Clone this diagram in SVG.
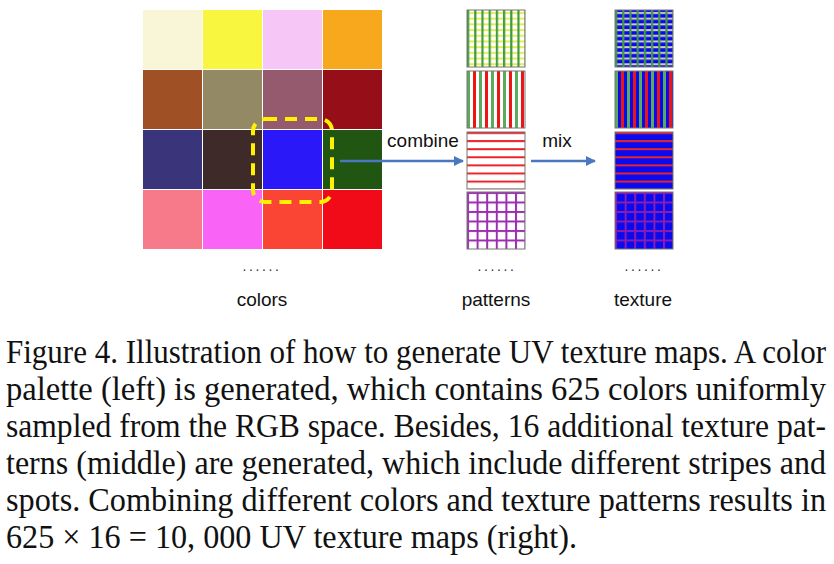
<svg xmlns="http://www.w3.org/2000/svg" width="834" height="564" viewBox="0 0 834 564">
<style>
.lbl{font-family:"Liberation Sans",Arial,sans-serif;font-size:19px;fill:#111;text-anchor:middle}
.dots{font-family:"Liberation Sans",Arial,sans-serif;font-size:14px;fill:#333;text-anchor:middle;letter-spacing:2.6px}
.cap{font-family:"Liberation Serif","Times New Roman",serif;font-size:29px;fill:#111}
.box{stroke:#777;stroke-width:1;fill:none}
.arr{stroke:#4A78C0;stroke-width:2.5;fill:none}
</style>
<defs>
<pattern id="gv" width="7.2" height="10" patternUnits="userSpaceOnUse"><rect x="0" y="0" width="2.2" height="10" fill="#3E9A46"/></pattern>
<pattern id="yh" width="10" height="5.7" patternUnits="userSpaceOnUse"><rect x="0" y="2" width="10" height="2" fill="#E4EC4E"/></pattern>
<pattern id="bh" width="10" height="5.7" patternUnits="userSpaceOnUse"><rect x="0" y="2" width="10" height="2" fill="#D6D2AE"/></pattern>
<pattern id="gr" width="12" height="10" patternUnits="userSpaceOnUse"><rect x="0" y="0" width="3" height="10" fill="#5CAA5C"/><rect x="6" y="0" width="3" height="10" fill="#EE1515"/></pattern>
<pattern id="rh" width="10" height="8.1" patternUnits="userSpaceOnUse"><rect x="0" y="0" width="10" height="2" fill="#E8242A"/></pattern>
<pattern id="pg" width="9.6" height="9.5" patternUnits="userSpaceOnUse"><rect x="0" y="0" width="2" height="9.5" fill="#9B2FB0"/><rect x="0" y="0" width="9.6" height="2" fill="#9B2FB0"/></pattern>
<pattern id="pg2" width="9.6" height="9.5" patternUnits="userSpaceOnUse"><rect x="0" y="0" width="2" height="9.5" fill="#8A1CB0"/><rect x="0" y="0" width="9.6" height="2" fill="#8A1CB0"/></pattern>
<marker id="ah" viewBox="0 0 10 10" refX="9" refY="5" markerWidth="4" markerHeight="4" orient="auto" markerUnits="strokeWidth"><path d="M0,0 L10,5 L0,10 z" fill="#4A78C0"/></marker>
</defs>
<rect width="834" height="564" fill="#fff"/>

<g id="palette">
<rect x="143" y="10" width="59" height="59" fill="#F8F6D6"/>
<rect x="203" y="10" width="59" height="59" fill="#F9F640"/>
<rect x="263" y="10" width="59" height="59" fill="#F6C6F6"/>
<rect x="323" y="10" width="59" height="59" fill="#F7A81C"/>
<rect x="143" y="70" width="59" height="59" fill="#A05025"/>
<rect x="203" y="70" width="59" height="59" fill="#938A65"/>
<rect x="263" y="70" width="59" height="59" fill="#965A6E"/>
<rect x="323" y="70" width="59" height="59" fill="#960E18"/>
<rect x="143" y="130" width="59" height="59" fill="#3A347A"/>
<rect x="203" y="130" width="59" height="59" fill="#3E2A28"/>
<rect x="263" y="130" width="59" height="59" fill="#2B18F8"/>
<rect x="323" y="130" width="59" height="59" fill="#205512"/>
<rect x="143" y="190" width="59" height="59" fill="#F77A8A"/>
<rect x="203" y="190" width="59" height="59" fill="#F963F6"/>
<rect x="263" y="190" width="59" height="59" fill="#FA4535"/>
<rect x="323" y="190" width="59" height="59" fill="#F10A18"/>
<rect x="253" y="119" width="79" height="83" rx="12" fill="none" stroke="#FFF200" stroke-width="4" stroke-dasharray="12 8"/>
</g>

<g id="patterns">
<g transform="translate(467,10)"><rect width="58" height="57" fill="#fff"/><rect width="58" height="57" fill="url(#yh)"/><rect width="58" height="57" fill="url(#gv)"/><rect width="58" height="57" class="box"/></g>
<g transform="translate(467,71)"><rect width="58" height="57" fill="#fff"/><rect width="58" height="57" fill="url(#gr)"/><rect width="58" height="57" class="box"/></g>
<g transform="translate(467,132)"><rect width="58" height="57" fill="#fff"/><rect width="58" height="57" fill="url(#rh)"/><rect width="58" height="57" class="box"/></g>
<g transform="translate(467,192)"><rect width="58" height="57" fill="#fff"/><rect width="58" height="57" fill="url(#pg)"/><rect width="58" height="57" class="box"/></g>
</g>

<g id="textures">
<g transform="translate(615,10)"><rect width="58" height="57" fill="#0A0AEE"/><rect width="58" height="57" fill="url(#bh)"/><rect width="58" height="57" fill="url(#gv)"/><rect width="58" height="57" class="box"/></g>
<g transform="translate(615,71)"><rect width="58" height="57" fill="#0A0AEE"/><rect width="58" height="57" fill="url(#gr)"/><rect width="58" height="57" class="box"/></g>
<g transform="translate(615,132)"><rect width="58" height="57" fill="#0A0AEE"/><rect width="58" height="57" fill="url(#rh)"/><rect width="58" height="57" class="box"/></g>
<g transform="translate(615,192)"><rect width="58" height="57" fill="#0A0AEE"/><rect width="58" height="57" fill="url(#pg2)"/><rect width="58" height="57" class="box"/></g>
</g>

<g id="connectors">
<line x1="340" y1="161" x2="463" y2="161" class="arr" marker-end="url(#ah)"/>
<line x1="531" y1="161" x2="595" y2="161" class="arr" marker-end="url(#ah)"/>
<text x="423" y="147" class="lbl">combine</text>
<text x="557" y="147" class="lbl">mix</text>
</g>

<g id="labels">
<text x="262" y="271" class="dots">......</text>
<text x="497" y="271" class="dots">......</text>
<text x="644" y="271" class="dots">......</text>
<text x="262" y="306" class="lbl">colors</text>
<text x="496" y="306" class="lbl">patterns</text>
<text x="643" y="306" class="lbl">texture</text>
</g>

<g id="caption" class="cap">
<g transform="translate(6,363) scale(1,1.14)"><text x="0" y="0" textLength="820" lengthAdjust="spacingAndGlyphs">Figure 4. Illustration of how to generate UV texture maps. A color</text></g>
<g transform="translate(6,400) scale(1,1.14)"><text x="0" y="0" textLength="820" lengthAdjust="spacingAndGlyphs">palette (left) is generated, which contains 625 colors uniformly</text></g>
<g transform="translate(6,437) scale(1,1.14)"><text x="0" y="0" textLength="820" lengthAdjust="spacingAndGlyphs">sampled from the RGB space. Besides, 16 additional texture pat-</text></g>
<g transform="translate(6,474) scale(1,1.14)"><text x="0" y="0" textLength="820" lengthAdjust="spacingAndGlyphs">terns (middle) are generated, which include different stripes and</text></g>
<g transform="translate(6,511) scale(1,1.14)"><text x="0" y="0" textLength="820" lengthAdjust="spacingAndGlyphs">spots. Combining different colors and texture patterns results in</text></g>
<g transform="translate(6,548) scale(1,1.14)"><text x="0" y="0" textLength="571" lengthAdjust="spacingAndGlyphs">625 × 16 = 10, 000 UV texture maps (right).</text></g>
</g>
</svg>
